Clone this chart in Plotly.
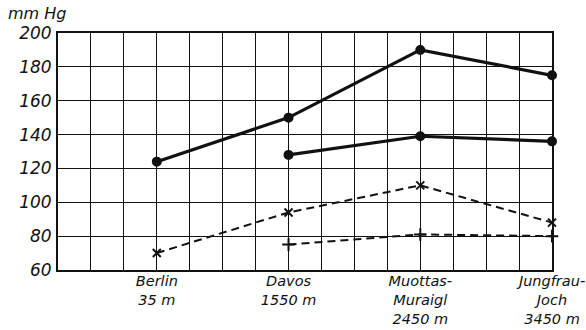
import plotly.graph_objects as go

stations = ["Berlin", "Davos", "Muottas-Muraigl", "Jungfrau-Joch"]
station_pos = [3, 7, 11, 15]
tick_labels = ["Berlin<br>35 m", "Davos<br>1550 m", "Muottas-<br>Muraigl<br>2450 m", "Jungfrau-<br>Joch<br>3450 m"]

series_a = [124, 150, 190, 175]
series_b = [None, 128, 139, 136]
series_c = [70, 94, 110, 88]
series_d = [None, 75, 81, 80]

y_ticks = [60, 80, 100, 120, 140, 160, 180, 200]

ink = "#111111"
fig = go.Figure()

def add(vals, dash, width, symbol, size):
    xs = [p for p, v in zip(station_pos, vals) if v is not None]
    ys = [v for v in vals if v is not None]
    fig.add_trace(go.Scatter(
        x=xs, y=ys, mode="lines+markers",
        line=dict(color=ink, width=width, dash=dash),
        marker=dict(symbol=symbol, size=size, color=ink,
                    line=dict(color=ink, width=2)),
        showlegend=False, cliponaxis=False))

add(series_a, "solid", 3.2, "circle", 8)
add(series_b, "solid", 3.2, "circle", 8)
add(series_c, "8px,5px", 2, "x-thin-open", 8)
add(series_d, "8px,5px", 2, "cross-thin-open", 9)

fig.update_layout(
    width=586, height=330,
    margin=dict(l=58, r=34, t=33, b=60, autoexpand=False),
    paper_bgcolor="white", plot_bgcolor="white",
    xaxis=dict(range=[0, 15], tickvals=station_pos, ticktext=tick_labels,
               showgrid=True, gridcolor=ink, gridwidth=1.4,
               minor=dict(dtick=1, tick0=0, showgrid=True, gridcolor=ink, gridwidth=1.4),
               showline=True, linecolor=ink, linewidth=2, mirror=True,
               zeroline=False, ticks="", automargin=False, ticklabeloverflow="allow",
               ticklabelstandoff=-3,
               tickfont=dict(family="DejaVu Sans", size=14.5, color=ink, style="italic")),
    yaxis=dict(range=[60, 200], tickvals=y_ticks,
               showgrid=True, gridcolor=ink, gridwidth=1.4,
               showline=True, linecolor=ink, linewidth=2, mirror=True,
               zeroline=False, ticks="", ticklabelstandoff=1, automargin=False,
               tickfont=dict(family="DejaVu Sans", size=17, color=ink, style="italic")),
    annotations=[dict(text="mm Hg", xref="paper", yref="paper", x=-0.105, y=1.035,
                      xanchor="left", yanchor="bottom", showarrow=False,
                      font=dict(family="DejaVu Sans", size=16, color=ink, style="italic"))],
)

fig.write_html("out.html")
